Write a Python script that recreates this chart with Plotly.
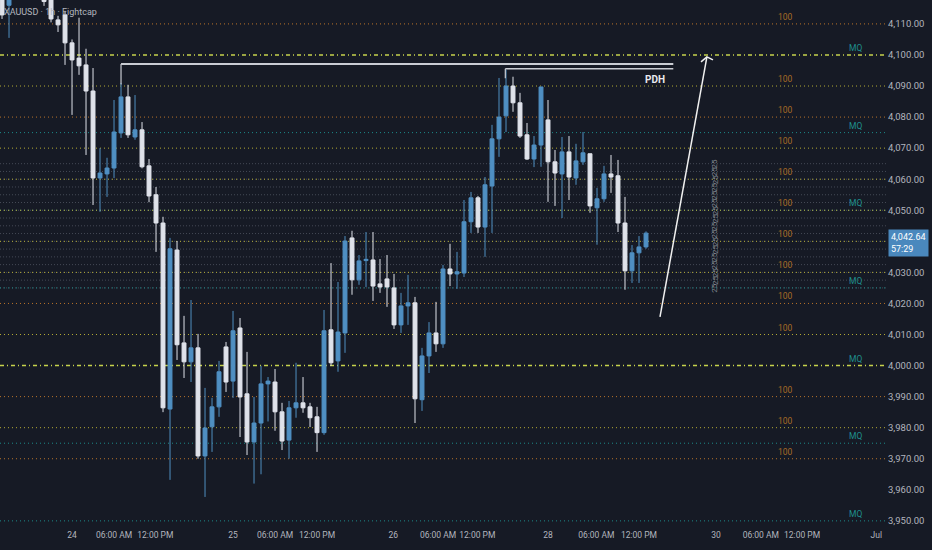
import plotly.graph_objects as go

# ---------------- data ----------------
# hourly candles, x = hour index (0 = "24" 00:00)
HOURS = list(range(-10, 83))
OPEN = [4122, 4116, 4124, 4128, 4125, 4127, 4119, 4119, 4111.3, 4112.9,
        4103.9, 4099, 4096.8, 4088.4, 4060.4, 4061.7, 4063.6, 4074.9, 4086.5, 4073.6,
        4075.9, 4064.3, 4055, 4045.9, 3986, 4037.2, 4007.3, 4001.2, 4005.7, 3970.9,
        3980.3, 3986.7, 4006, 3995, 4012.1, 3990.9, 3975.4, 3981.5, 3994.1, 3994.7,
        3985.1, 3976, 3986.4, 3988, 3986.7, 3983.5, 3978.4, 4011.5, 4001.5, 4010.5,
        4041.1, 4027.6, 4033.8, 4034, 4026.3, 4027.9, 4025, 4013.1, 4019.2, 4020.2,
        3989, 4003.1, 4010.5, 4007, 4031.1, 4029.5, 4029.8, 4046.3, 4054, 4044.6,
        4057.8, 4073, 4080.4, 4090, 4084.6, 4074.3, 4066.5, 4071, 4079.1, 4065.6,
        4061.7, 4068.8, 4060.4, 4065.6, 4068.2, 4050.8, 4053.7, 4061.7, 4061.1, 4045.9,
        4030.5, 4036.3, 4038.2]
HIGH = [4125, 4127, 4131, 4132, 4130, 4129, 4123, 4121, 4112.6, 4114.2,
        4105, 4112, 4102, 4095.8, 4070, 4066.9, 4085.5, 4091, 4090.4, 4087.1,
        4078.4, 4066.5, 4057.5, 4047.9, 4041.1, 4040.1, 4016, 4021.1, 4010.2, 3992.8,
        3989.6, 4001.5, 4007.6, 4017.6, 4015.3, 4004.4, 3989.9, 3999.9, 3996.3, 3998.9,
        3988, 3988.6, 4000.9, 3996.3, 3988, 3986.7, 4017.9, 4033, 4026.9, 4041.7,
        4043.4, 4035.6, 4043, 4043, 4034.3, 4035.6, 4029.5, 4023.4, 4029.2, 4022.1,
        4005.7, 4014, 4020.5, 4032.4, 4039.2, 4036.6, 4053.3, 4055.9, 4054.6, 4060.7,
        4077.5, 4092.6, 4095.2, 4093, 4087.8, 4078.1, 4073.9, 4089.7, 4085.5, 4069.4,
        4073.6, 4073.9, 4071.4, 4075.2, 4068.2, 4057.2, 4064.3, 4067.8, 4066.2, 4054.3,
        4038.8, 4041.7, 4043.2]
LOW = [4111.6, 4105.5, 4121, 4122, 4121, 4119, 4115.8, 4110.5, 4107.4, 4096.8,
       4080.7, 4093.6, 4067.8, 4051.7, 4049.5, 4054.3, 4060.4, 4073.3, 4073.3, 4072.7,
       4063.5, 4052.6, 4036.6, 3985, 3963.2, 4001.8, 3996, 3994.7, 3970, 3957.7,
       3972.2, 3983.5, 3991.5, 3989.6, 3977, 3971.2, 3962, 3965, 3982, 3979,
       3972.8, 3970, 3983.2, 3984.8, 3980.2, 3972.2, 3977.7, 3999.9, 3998, 4004.1,
       4022.8, 4026, 4025.3, 4020.8, 4023.4, 4018.9, 4011.8, 4010.5, 4013.1, 3981.5,
       3985.4, 3997.6, 4004.4, 4005.7, 4025.6, 4024.7, 4028.5, 4042.7, 4042.7, 4035,
       4042.7, 4067.2, 4075.2, 4081.7, 4073.3, 4066.2, 4063.9, 4064, 4052.7, 4051.4,
       4047.5, 4053.3, 4058.2, 4064.6, 4049.2, 4038.9, 4052.7, 4055.6, 4043, 4024.4,
       4026.6, 4026.6, 4037.6]
CLOSE = [4112.9, 4124, 4128, 4125, 4127, 4122, 4117.2, 4111.6, 4109.7, 4103.9,
         4098.4, 4096.5, 4088.4, 4060.4, 4062, 4063.6, 4075.2, 4086.5, 4074.3, 4075.9,
         4064, 4054.6, 4045.9, 3986.4, 4037.6, 4006.7, 4001.2, 4005.7, 3970.9, 3979.9,
         3986.7, 3998, 3994.7, 4011.2, 3989.9, 3975.4, 3981.5, 3994.1, 3995, 3985.1,
         3975.7, 3986.4, 3988, 3986.4, 3983.2, 3978.4, 4011.2, 4000.9, 4010.8, 4040.1,
         4027.6, 4033.7, 4034.2, 4025.6, 4025.3, 4025.3, 4013.1, 4019.2, 4020.2, 3989.3,
         4003.1, 4010.5, 4007, 4031.1, 4029.5, 4030.2, 4046.3, 4054, 4044.6, 4058.2,
         4073, 4080, 4090, 4084.6, 4073.9, 4066.5, 4071, 4089.7, 4065.6, 4062,
         4068.8, 4060.7, 4065.9, 4068.5, 4051.4, 4053.7, 4061.7, 4060.7, 4045.9, 4030.5,
         4036.3, 4038.2, 4042.64]

# time axis ticks (hour index positions)
TICK_POS = [0, 6, 11.9, 23, 29, 35, 45.9, 52.3, 57.9, 68, 74.9, 81, 92, 98.4, 104.3, 114.9]
TICK_TEXT = ["24", "06:00 AM", "12:00 PM", "25", "06:00 AM", "12:00 PM", "26", "06:00 AM",
             "12:00 PM", "28", "06:00 AM", "12:00 PM", "30", "06:00 AM", "12:00 PM", "Jul"]
PRICE_TICKS = [p for p in range(3950, 4111, 10) if p != 4040]

# drawing levels
LEVELS_100 = [4110, 4090, 4080, 4070, 4060, 4050, 4040, 4030, 4020, 4010, 3990, 3980, 3970]
LEVELS_100_ORANGE = [4110, 4080, 4020, 3990, 3970]
LEVELS_KEY = [4100, 4000]
LEVELS_MQ = [4100, 4075, 4050, 4025, 4000, 3975, 3950]
LEVELS_25 = [4025 + 2.5 * k for k in range(17)]
PDH_1 = 4097.1
PDH_2 = 4095.6
LAST_PRICE = 4042.64
ARROW_X = [84.0, 90.7, None, 89.86, 90.7, 91.57]
ARROW_Y = [4015.7, 4099.4, None, 4097.8, 4099.4, 4098.4]

BG = "#161a25"
BLUE = "#4f8fc2"
WHITE = "#dfe2ea"
TXT = "#b2b5be"
FONT = "Roboto"

fig = go.Figure()
fig.add_trace(go.Candlestick(
    x=HOURS, open=OPEN, high=HIGH, low=LOW, close=CLOSE,
    increasing=dict(fillcolor=BLUE, line=dict(color=BLUE, width=1)),
    decreasing=dict(fillcolor=WHITE, line=dict(color=WHITE, width=1)),
    whiskerwidth=0, showlegend=False, hoverinfo="skip",
))
fig.add_trace(go.Scatter(x=ARROW_X, y=ARROW_Y, mode="lines",
                         line=dict(color="#f0f0f0", width=1.5), showlegend=False, hoverinfo="skip"))

shapes = []
for lv in LEVELS_25:
    shapes.append(dict(type="line", xref="paper", x0=0, x1=1, yref="y", y0=lv, y1=lv,
                       line=dict(color="rgba(125,130,145,0.45)", width=1, dash="1px,2px"), layer="below"))
for lv in LEVELS_MQ:
    if lv in LEVELS_KEY:
        continue
    shapes.append(dict(type="line", xref="paper", x0=0, x1=1, yref="y", y0=lv, y1=lv,
                       line=dict(color="#1d8a8a", width=1, dash="1px,3px"), layer="below"))
for lv in LEVELS_100:
    col = "#b8732a" if lv in LEVELS_100_ORANGE else "#b3aa34"
    shapes.append(dict(type="line", xref="paper", x0=0, x1=1, yref="y", y0=lv, y1=lv,
                       line=dict(color=col, width=1, dash="1px,3px"), layer="below"))
for lv in LEVELS_KEY:
    shapes.append(dict(type="line", xref="paper", x0=0, x1=1, yref="y", y0=lv, y1=lv,
                       line=dict(color="#c6d24c", width=1.5, dash="4px,3px,1px,3px"), layer="below"))
shapes += [
    dict(type="line", xref="x", yref="y", x0=7, x1=85.9, y0=PDH_1, y1=PDH_1,
         line=dict(color="#c9ccd3", width=2)),
    dict(type="line", xref="x", yref="y", x0=7, x1=7, y0=PDH_1, y1=4090.5,
         line=dict(color="#c9ccd3", width=1.2)),
    dict(type="line", xref="x", yref="y", x0=61.9, x1=85.9, y0=PDH_2, y1=PDH_2,
         line=dict(color="#c9ccd3", width=1.5)),
    dict(type="line", xref="x", yref="y", x0=61.9, x1=61.9, y0=PDH_2, y1=4092.5,
         line=dict(color="#c9ccd3", width=1.2)),
]

ann = []
for lv in LEVELS_100:
    ann.append(dict(x=0.886, xref="paper", y=lv, yref="y", text="100", showarrow=False,
                    xanchor="center", yanchor="bottom",
                    font=dict(family=FONT, size=8.5, color="#a86c26")))
for lv in LEVELS_MQ:
    ann.append(dict(x=0.965, xref="paper", y=lv, yref="y", text="MQ", showarrow=False,
                    xanchor="center", yanchor="bottom",
                    font=dict(family=FONT, size=8.5, color="#1f8e8e")))
for lv in LEVELS_25:
    ann.append(dict(x=0.806, xref="paper", y=lv, yref="y", text="25", showarrow=False,
                    xanchor="center", textangle=-90,
                    font=dict(family=FONT, size=8, color="rgba(160,165,175,0.8)")))
ann.append(dict(x=83.3, xref="x", y=4092, yref="y", text="<b>PDH</b>", showarrow=False,
                xanchor="center", font=dict(family=FONT, size=10, color="#e8e9ee")))
ann.append(dict(x=0.002, xref="paper", y=0.977, yref="paper", xanchor="left", yanchor="middle",
                text="XAUUSD · 1h · Eightcap", showarrow=False,
                font=dict(family=FONT, size=9, color=TXT)))
ann.append(dict(x=1.0, xref="paper", y=LAST_PRICE, yref="y", xanchor="left", yanchor="top",
                xshift=1, yshift=4,
                text="4,042.64<br>57:29", showarrow=False, align="left",
                bgcolor="#4a88bd", borderpad=2,
                font=dict(family=FONT, size=9, color="#ffffff")))

fig.update_layout(
    width=932, height=550,
    paper_bgcolor=BG, plot_bgcolor=BG,
    margin=dict(l=0, r=45, t=0, b=22, autoexpand=False),
    shapes=shapes, annotations=ann,
    boxgap=0.2,
    font=dict(family=FONT, size=9, color=TXT),
    xaxis=dict(range=[-10.29, 116.43], tickvals=TICK_POS, ticktext=TICK_TEXT,
               tickangle=0, automargin=False,
               showgrid=False, zeroline=False, showline=False, ticks="",
               rangeslider=dict(visible=False), tickfont=dict(size=8.5, color=TXT)),
    yaxis=dict(range=[3947.7, 4117.7], side="right", tickvals=PRICE_TICKS, automargin=False,
               tickformat=",.2f", showgrid=False, zeroline=False, showline=False, ticks="",
               tickfont=dict(size=9.5, color=TXT)),
)
fig.write_html("out.html", config={"displayModeBar": False},
               post_script="document.body.style.margin='0px';")
